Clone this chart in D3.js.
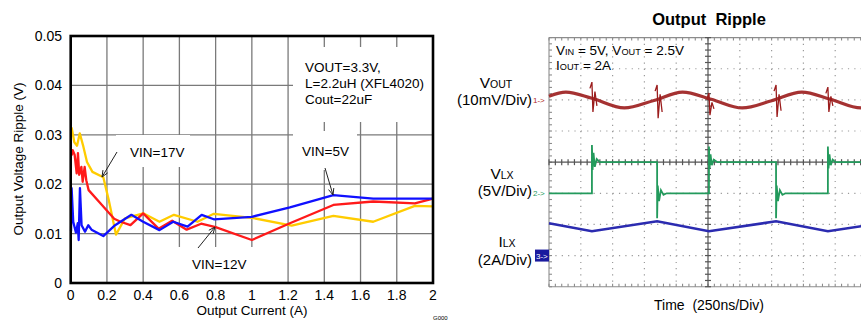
<!DOCTYPE html>
<html>
<head>
<meta charset="utf-8">
<script src="https://cdn.jsdelivr.net/npm/d3@7"></script>
<style>
  body { margin: 0; background: #fff; }
  svg { display: block; font-family: "Liberation Sans", Arial, sans-serif; }
</style>
</head>
<body>
<svg id="chart" width="861" height="321"></svg>
<script>
// ---- left chart: ripple vs output current ----
const currentVin5 = [0.002, 0.005, 0.014, 0.029, 0.039, 0.044, 0.051, 0.06, 0.079, 0.097, 0.115, 0.18, 0.245, 0.335, 0.40, 0.49, 0.566, 0.645, 0.723, 0.79, 1.0, 1.21, 1.45, 1.67, 1.9, 2.0];
const rippleVin5  = [0.0105, 0.0192, 0.0124, 0.0102, 0.0121, 0.0087, 0.0192, 0.0117, 0.0104, 0.0117, 0.0108, 0.0095, 0.0117, 0.0138, 0.0124, 0.0107, 0.0124, 0.0114, 0.0138, 0.0129, 0.0134, 0.0153, 0.0178, 0.0171, 0.0171, 0.0171];

const currentVin12 = [0.005, 0.011, 0.022, 0.033, 0.04, 0.047, 0.059, 0.066, 0.077, 0.086, 0.099, 0.165, 0.24, 0.275, 0.33, 0.40, 0.485, 0.56, 0.64, 0.72, 0.80, 1.0, 1.21, 1.45, 1.67, 1.9, 2.0];
const rippleVin12  = [0.0258, 0.0269, 0.0259, 0.0222, 0.0263, 0.0219, 0.0235, 0.0205, 0.0235, 0.0208, 0.0188, 0.0161, 0.0130, 0.0124, 0.0117, 0.0141, 0.0110, 0.0126, 0.0108, 0.0120, 0.0113, 0.0087, 0.0121, 0.0158, 0.0165, 0.0161, 0.0171];

const currentVin17 = [0.005, 0.02, 0.035, 0.05, 0.07, 0.09, 0.12, 0.18, 0.21, 0.25, 0.30, 0.40, 0.49, 0.57, 0.70, 0.79, 1.0, 1.22, 1.45, 1.67, 1.9, 2.0];
const rippleVin17  = [0.0315, 0.0285, 0.0278, 0.0303, 0.0276, 0.0245, 0.0225, 0.0214, 0.0168, 0.0098, 0.0131, 0.0141, 0.0124, 0.0138, 0.0124, 0.0140, 0.0132, 0.0116, 0.0136, 0.0124, 0.0156, 0.0155];

const xTicks = [0, 0.2, 0.4, 0.6, 0.8, 1, 1.2, 1.4, 1.6, 1.8, 2];
const xTickLabels = ["0", "0.2", "0.4", "0.6", "0.8", "1", "1.2", "1.4", "1.6", "1.8", "2"];
const yTicks = [0, 0.01, 0.02, 0.03, 0.04, 0.05];
const yTickLabels = ["0", "0.01", "0.02", "0.03", "0.04", "0.05"];

// ---- right chart: scope traces (time and level in divisions) ----
const voutTime  = [0, 0.53, 1.35, 2.37, 3.3, 4.2, 5.1, 6.08, 7.0, 7.95, 8.85, 9.82, 10];
const voutLevel = [2.12, 2.25, 2.05, 1.74, 1.98, 2.25, 2.02, 1.74, 1.97, 2.25, 2.02, 1.74, 1.76];
// switching spikes on vout: time, top, bottom
const voutSpikes = [[1.35, 2.57, 1.61], [3.40, 2.48, 1.41], [5.03, 2.22, 1.51], [7.14, 2.48, 1.45], [8.77, 2.41, 1.61]];

const vlxTime  = [0, 1.35, 1.35, 1.37, 1.40, 1.44, 1.5, 1.6, 3.40, 3.40, 3.42, 3.46, 3.52, 3.6, 3.7, 5.03, 5.03, 5.05, 5.08, 5.12, 5.18, 5.3, 7.14, 7.14, 7.16, 7.2, 7.26, 7.34, 7.44, 8.77, 8.77, 8.79, 8.82, 8.86, 8.92, 9.0, 10];
const vlxLevel = [-1.0, -1.0, 0.55, -0.25, 0.3, -0.15, 0.1, 0, 0, -1.8, -0.75, -1.25, -0.9, -1.05, -1.0, -1.0, 0.5, -0.2, 0.25, -0.1, 0.08, 0, 0, -1.8, -0.75, -1.25, -0.9, -1.05, -1.0, -1.0, 0.5, -0.2, 0.25, -0.1, 0.08, 0, 0];

const ilxTime  = [0, 1.35, 3.40, 5.03, 7.14, 8.77, 10];
const ilxLevel = [-1.96, -2.22, -1.90, -2.22, -1.90, -2.22, -2.03];

const svg = d3.select("#chart");

// ================= left chart =================
const x = d3.scaleLinear().domain([0, 2]).range([70.7, 433]);
const y = d3.scaleLinear().domain([0, 0.05]).range([283, 36]);

const grid = svg.append("g").attr("stroke", "#7a7a7a").attr("stroke-width", 1.3);
grid.selectAll("line.v").data(xTicks.slice(1, -1)).join("line")
  .attr("x1", d => x(d)).attr("x2", d => x(d))
  .attr("y1", y(0)).attr("y2", y(0.05));
grid.selectAll("line.h").data(yTicks.slice(1, -1)).join("line")
  .attr("x1", x(0)).attr("x2", x(2))
  .attr("y1", d => y(d)).attr("y2", d => y(d));

// white areas behind the annotations (grid is broken there)
const blanks = [[293, 47, 139, 75], [293, 131, 64, 39], [116, 135, 74, 32], [150, 247, 112, 35]];
svg.append("g").selectAll("rect").data(blanks).join("rect")
  .attr("x", d => d[0]).attr("y", d => d[1]).attr("width", d => d[2]).attr("height", d => d[3])
  .attr("fill", "#fff");

const line = d3.line().x(d => x(d[0])).y(d => y(d[1]));
const series = [
  { cur: currentVin17, rip: rippleVin17, color: "#ffcc00" },
  { cur: currentVin12, rip: rippleVin12, color: "#ff1a1a" },
  { cur: currentVin5, rip: rippleVin5, color: "#1010ff" }
];
svg.append("g").selectAll("path").data(series).join("path")
  .attr("d", s => line(s.cur.map((c, i) => [c, s.rip[i]])))
  .attr("fill", "none")
  .attr("stroke", s => s.color)
  .attr("stroke-width", 2.3)
  .attr("stroke-linejoin", "round");

// frame
svg.append("rect")
  .attr("x", x(0)).attr("y", y(0.05))
  .attr("width", x(2) - x(0)).attr("height", y(0) - y(0.05))
  .attr("fill", "none").attr("stroke", "#000").attr("stroke-width", 2.6);

// tick labels
svg.append("g").attr("font-size", 14).attr("text-anchor", "end")
  .selectAll("text").data(yTicks).join("text")
  .attr("x", 62).attr("y", d => y(d) + 5)
  .text((d, i) => yTickLabels[i]);
svg.append("g").attr("font-size", 14).attr("text-anchor", "middle")
  .selectAll("text").data(xTicks).join("text")
  .attr("x", d => x(d)).attr("y", 300)
  .text((d, i) => xTickLabels[i]);

svg.append("text").attr("x", 252).attr("y", 315).attr("font-size", 13.5)
  .attr("text-anchor", "middle").text("Output Current (A)");
svg.append("text").attr("transform", "translate(23,159) rotate(-90)").attr("font-size", 13.5)
  .attr("text-anchor", "middle").text("Output Voltage Ripple (V)");
svg.append("text").attr("x", 433).attr("y", 320).attr("font-size", 6).text("G000");

const note = svg.append("g").attr("font-size", 13.5);
note.append("text").attr("x", 305).attr("y", 72).text("VOUT=3.3V,");
note.append("text").attr("x", 305).attr("y", 88).text("L=2.2uH (XFL4020)");
note.append("text").attr("x", 305).attr("y", 104).text("Cout=22uF");
note.append("text").attr("x", 130).attr("y", 157).text("VIN=17V");
note.append("text").attr("x", 302).attr("y", 156).text("VIN=5V");
note.append("text").attr("x", 192).attr("y", 269).text("VIN=12V");

function arrow(x1, y1, x2, y2) {
  const a = Math.atan2(y2 - y1, x2 - x1), L = 7, w = 0.4;
  const g = svg.append("g").attr("stroke", "#222").attr("stroke-width", 1).attr("fill", "none");
  g.append("line").attr("x1", x1).attr("y1", y1).attr("x2", x2).attr("y2", y2);
  g.append("path").attr("d",
    `M${x2 - L * Math.cos(a - w)},${y2 - L * Math.sin(a - w)}L${x2},${y2}L${x2 - L * Math.cos(a + w)},${y2 - L * Math.sin(a + w)}`);
}
arrow(117, 152, 102, 177);
arrow(198, 248, 215, 227);
arrow(325, 168, 333, 195);

// ================= right chart: scope =================
const t = d3.scaleLinear().domain([0, 10]).range([549, 867]);
const v = d3.scaleLinear().domain([-4, 4]).range([286.7, 37.6]);
const scope = svg.append("g");

const divT = d3.range(1, 10).filter(d => d !== 5);
const divV = [-3, -2, -1, 1, 2, 3];
scope.append("g").attr("stroke", "#9a9a9a").attr("stroke-width", 1.2)
  .selectAll("line").data(divT).join("line")
  .attr("x1", d => t(d)).attr("x2", d => t(d)).attr("y1", v(4)).attr("y2", v(-4))
  .attr("stroke-dasharray", "1.2 5.03");
scope.append("g").attr("stroke", "#9a9a9a").attr("stroke-width", 1.2)
  .selectAll("line").data(divV).join("line")
  .attr("x1", t(0)).attr("x2", t(10)).attr("y1", d => v(d)).attr("y2", d => v(d))
  .attr("stroke-dasharray", "1.2 5.16");

// frame and center axes with minor ticks
const frame = scope.append("g").attr("stroke", "#8c8c8c").attr("stroke-width", 1.1);
frame.append("line").attr("x1", t(0)).attr("x2", t(10)).attr("y1", v(4)).attr("y2", v(4));
frame.append("line").attr("x1", t(0)).attr("x2", t(10)).attr("y1", v(-4)).attr("y2", v(-4));
frame.append("line").attr("x1", t(0)).attr("x2", t(0)).attr("y1", v(4)).attr("y2", v(-4));
const minorT = d3.range(0, 50).map(i => i / 5);
const minorV = d3.range(-20, 21).map(i => i / 5);
frame.selectAll("line.tt").data(minorT).join("line")
  .attr("x1", d => t(d)).attr("x2", d => t(d)).attr("y1", v(4)).attr("y2", v(4) + 3);
frame.selectAll("line.tb").data(minorT).join("line")
  .attr("x1", d => t(d)).attr("x2", d => t(d)).attr("y1", v(-4)).attr("y2", v(-4) - 3);
frame.selectAll("line.tl").data(minorV).join("line")
  .attr("x1", t(0)).attr("x2", t(0) + 3).attr("y1", d => v(d)).attr("y2", d => v(d));

const axes = scope.append("g").attr("stroke", "#555").attr("stroke-width", 1.2);
axes.append("line").attr("x1", t(0)).attr("x2", t(10)).attr("y1", v(0)).attr("y2", v(0));
axes.append("line").attr("x1", t(5)).attr("x2", t(5)).attr("y1", v(4)).attr("y2", v(-4));
axes.selectAll("line.ah").data(minorT).join("line")
  .attr("x1", d => t(d)).attr("x2", d => t(d)).attr("y1", v(0) - 3).attr("y2", v(0) + 3);
axes.selectAll("line.av").data(minorV).join("line")
  .attr("x1", t(5) - 3).attr("x2", t(5) + 3).attr("y1", d => v(d)).attr("y2", d => v(d));

// traces
const trace = d3.line().x(d => t(d[0])).y(d => v(d[1]));
scope.append("path")
  .attr("d", trace.curve(d3.curveMonotoneX)(voutTime.map((d, i) => [d, voutLevel[i]])))
  .attr("fill", "none").attr("stroke", "#9b1c1c").attr("stroke-width", 3.2).attr("opacity", 0.9);
scope.append("g").attr("stroke", "#9b1c1c").attr("stroke-width", 1.3)
  .selectAll("path").data(voutSpikes).join("path")
  .attr("d", s => `M${t(s[0]) - 2},${v(s[1] - 0.2)}L${t(s[0])},${v(s[1])}L${t(s[0]) + 1},${v(s[2])}L${t(s[0]) + 3},${v(s[1] - 0.3)}L${t(s[0]) + 5},${v(s[2] + 0.2)}`)
  .attr("fill", "none");

scope.append("path")
  .attr("d", d3.line().x(d => t(d[0])).y(d => v(d[1]))(vlxTime.map((d, i) => [d, vlxLevel[i]])))
  .attr("fill", "none").attr("stroke", "#239a5c").attr("stroke-width", 1.8);

scope.append("path")
  .attr("d", d3.line().x(d => t(d[0])).y(d => v(d[1]))(ilxTime.map((d, i) => [d, ilxLevel[i]])))
  .attr("fill", "none").attr("stroke", "#2b2bb0").attr("stroke-width", 2.6);

// channel markers
svg.append("text").attr("x", 533).attr("y", v(2) + 3).attr("font-size", 8).attr("fill", "#b02a2a").text("1->");
svg.append("text").attr("x", 533).attr("y", v(-1) + 3).attr("font-size", 8).attr("fill", "#239a5c").text("2->");
svg.append("rect").attr("x", 535).attr("y", v(-3) - 6).attr("width", 14).attr("height", 12).attr("fill", "#1a1a9e");
svg.append("text").attr("x", 536).attr("y", v(-3) + 3).attr("font-size", 8).attr("fill", "#fff").text("3->");

// channel labels
function sub(sel, main, small, size) {
  sel.append("tspan").attr("font-size", size).text(main);
  sel.append("tspan").attr("font-size", size * 0.68).text(small);
  return sel;
}
sub(svg.append("text").attr("x", 496).attr("y", 88).attr("text-anchor", "middle"), "V", "OUT", 15.5);
svg.append("text").attr("x", 532).attr("y", 105).attr("text-anchor", "end").attr("font-size", 15).text("(10mV/Div)");
sub(svg.append("text").attr("x", 502).attr("y", 179).attr("text-anchor", "middle"), "V", "LX", 15.5);
svg.append("text").attr("x", 532).attr("y", 196).attr("text-anchor", "end").attr("font-size", 15).text("(5V/Div)");
sub(svg.append("text").attr("x", 507).attr("y", 247).attr("text-anchor", "middle"), "I", "LX", 15.5);
svg.append("text").attr("x", 532).attr("y", 265).attr("text-anchor", "end").attr("font-size", 15).text("(2A/Div)");

// conditions inside the screen
const cond = svg.append("text").attr("x", 556).attr("y", 55);
sub(cond, "V", "IN", 13.5);
cond.append("tspan").attr("font-size", 13.5).text(" = 5V, V");
cond.append("tspan").attr("font-size", 9.2).text("OUT");
cond.append("tspan").attr("font-size", 13.5).text(" = 2.5V");
const cond2 = svg.append("text").attr("x", 556).attr("y", 70);
sub(cond2, "I", "OUT", 13.5);
cond2.append("tspan").attr("font-size", 13.5).text(" = 2A");

svg.append("text").attr("x", 709).attr("y", 25).attr("text-anchor", "middle")
  .attr("font-size", 16.5).attr("font-weight", "bold").style("white-space", "pre").text("Output  Ripple");
svg.append("text").attr("x", 709).attr("y", 310).attr("text-anchor", "middle")
  .attr("font-size", 14).style("white-space", "pre").text("Time  (250ns/Div)");
</script>
</body>
</html>
